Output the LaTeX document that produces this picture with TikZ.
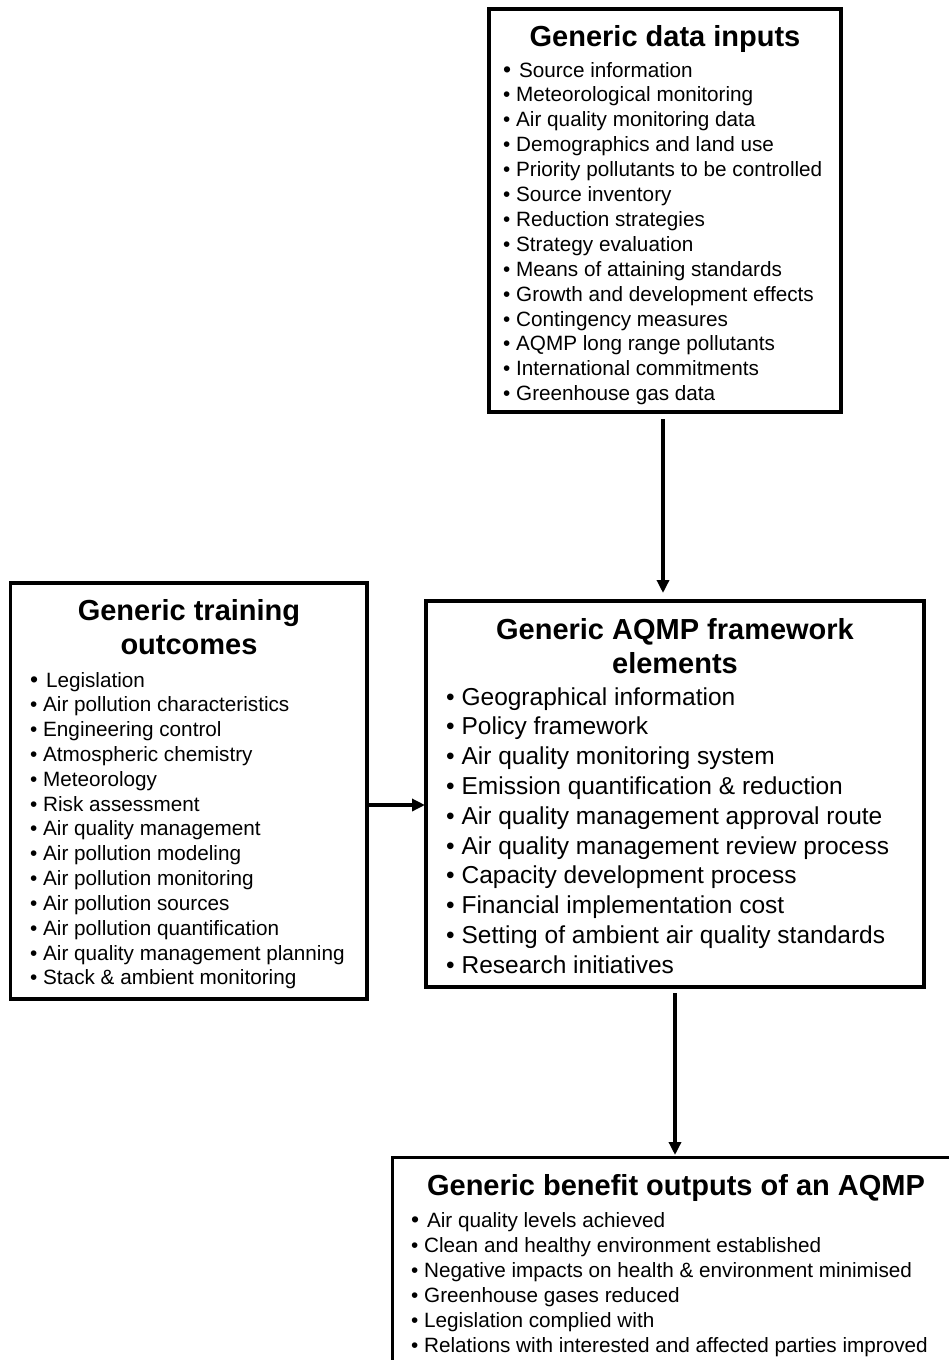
\documentclass[tikz,border=0pt]{standalone}
\usepackage{fontspec}
\setmainfont{Liberation Sans}
\usetikzlibrary{arrows.meta}
\begin{document}
\begin{tikzpicture}[x=1pt,y=-1pt,
  boxnode/.style={draw=black, line width=3.8pt, rectangle, inner sep=0pt, outer sep=0pt},
  titletext/.style={font=\bfseries\fontsize{29}{34}\selectfont, anchor=base, inner sep=0pt},
  itemtext/.style={font=\fontsize{20.7}{24.9}\selectfont, anchor=base west, inner sep=0pt},
  bigitem/.style={font=\fontsize{24.5}{29.8}\selectfont, anchor=base west, inner sep=0pt},
  conn/.style={line width=3.5pt, -{Triangle[length=13pt,width=12pt]}}]
\useasboundingbox (0,0) rectangle (949,1360);
\clip (0,0) rectangle (949,1360);

% boxes
\node[boxnode, minimum width=352pt, minimum height=403pt] (inputs) at (665,210.5) {};
\node[boxnode, minimum width=498pt, minimum height=386pt] (frame) at (675,794) {};
\node[boxnode, minimum width=356.5pt, minimum height=416pt] (train) at (188.75,791) {};
\node[boxnode, line width=3pt, minimum width=578pt, minimum height=243pt] (benefit) at (681,1278.5) {};

% top box text
\node[titletext] (inputsT) at (665,46) {Generic data inputs};
\node[itemtext] (in1) at (503,77) {{\fontsize{23}{24}\selectfont •}\ \kern2pt Source information};
\foreach \txt [count=\i from 2] in {Meteorological monitoring, Air quality monitoring data, Demographics and land use, Priority pollutants to be controlled, Source inventory, Reduction strategies, Strategy evaluation, Means of attaining standards, Growth and development effects, Contingency measures, AQMP long range pollutants, International commitments, Greenhouse gas data}
  \node[itemtext] (in\i) at (503,{77+24.9*(\i-1)}) {•\ \txt};

% middle box text
\node[titletext] (frameT1) at (675,639) {Generic AQMP framework};
\node[titletext] (frameT2) at (675,673) {elements};
\foreach \txt [count=\i] in {Geographical information, Policy framework, Air quality monitoring system, Emission quantification \& reduction, Air quality management approval route, Air quality management review process, Capacity development process, Financial implementation cost, Setting of ambient air quality standards, Research initiatives}
  \node[bigitem] (fr\i) at (446,{705+29.8*(\i-1)}) {•\ \txt};

% left box text
\node[titletext] (trainT1) at (189,620) {Generic training};
\node[titletext] (trainT2) at (189,654) {outcomes};
\node[itemtext] (tr1) at (30,687) {{\fontsize{23}{24}\selectfont •}\ \kern2pt Legislation};
\foreach \txt [count=\i from 2] in {Air pollution characteristics, Engineering control, Atmospheric chemistry, Meteorology, Risk assessment, Air quality management, Air pollution modeling, Air pollution monitoring, Air pollution sources, Air pollution quantification, Air quality management planning, Stack \& ambient monitoring}
  \node[itemtext] (tr\i) at (30,{687+24.83*(\i-1)}) {•\ \txt};

% bottom box text
\node[titletext] (benefitT) at (676,1195) {Generic benefit outputs of an AQMP};
\node[itemtext] (be1) at (411,1227) {{\fontsize{23}{24}\selectfont •}\ \kern2pt Air quality levels achieved};
\foreach \txt [count=\i from 2] in {Clean and healthy environment established, Negative impacts on health \& environment minimised, Greenhouse gases reduced, Legislation complied with, Relations with interested and affected parties improved}
  \node[itemtext] (be\i) at (411,{1227+25*(\i-1)}) {•\ \txt};

% connectors
\coordinate (topx) at (663,0);
\coordinate (hy) at (0,805);
\coordinate (botx) at (675,0);
\draw[conn, shorten <=7pt, shorten >=8pt] (inputs.south -| topx) -- (frame.north -| topx);
\draw[conn, shorten >=1pt] (train.east |- hy) -- (frame.west |- hy);
\draw[conn, shorten <=6pt, shorten >=2pt] (frame.south -| botx) -- (benefit.north -| botx);
\end{tikzpicture}
\end{document}
